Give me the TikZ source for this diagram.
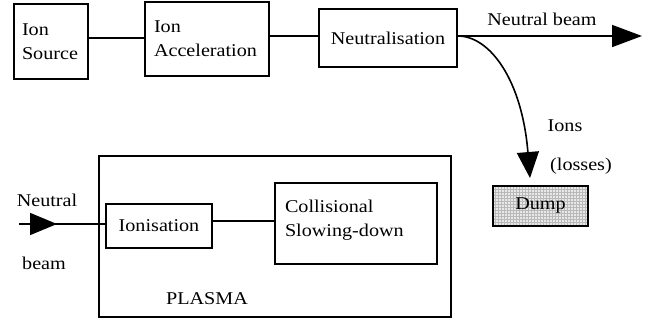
\documentclass[tikz,border=0pt]{standalone}
\usepackage{fontspec}
\setmainfont{Liberation Serif}[FakeStretch=1.12]
\usetikzlibrary{arrows.meta,patterns,decorations.markings}
\begin{document}
\begin{tikzpicture}[x=1pt,y=-1pt,
  every node/.style={font=\fontsize{18}{24}\selectfont, inner sep=0pt},
  box/.style={draw, line width=1.6pt},
  conn/.style={line width=1.6pt},
  bigtip/.style={-{Triangle[length=30pt,width=22pt]}}
]
\useasboundingbox (0,0) rectangle (658,324);
% top row
\node[box, minimum width=74pt, minimum height=75pt, text width=58pt, align=left] (src) at (51,41.5) {Ion\\Source};
\node[box, minimum width=124pt, minimum height=74pt, text width=106pt, align=left] (acc) at (207,39) {Ion\\Acceleration};
\node[box, minimum width=138pt, minimum height=58pt] (neut) at (388,38) {Neutralisation};
\draw[conn] ([yshift=3.5pt]src.east) -- ([yshift=1pt]acc.west);
\draw[conn] ([yshift=3pt]acc.east) -- ([yshift=2pt]neut.west);
\coordinate (beamend) at (642,36);
\coordinate (ionsend) at (530,178);
\draw[conn, bigtip] ([yshift=2pt]neut.east) -- (beamend);
\node (nbl) at (542,19) {Neutral beam};
\draw[conn, -{Triangle[length=26pt,width=22pt]}] ([yshift=2pt]neut.east) .. controls (490,36) and (522,80) .. (ionsend);
\node (ionsl) at (565,126) {Ions};
\node (lossl) at (581,166) {(losses)};
\node[draw, line width=2pt, minimum width=95pt, minimum height=40pt,
      preaction={fill=gray!18}, pattern=grid, pattern color=gray!55] (dump) at (540.5,206) {};
\node (dumpl) at (dump) {Dump};
% plasma
\node[box, minimum width=352pt, minimum height=161pt] (plasma) at (275,236.5) {};
\node (plasmal) at (207,299) {PLASMA};
\node[box, fill=white, minimum width=106pt, minimum height=44pt] (ion) at (159,226) {Ionisation};
\node[box, minimum width=162pt, minimum height=81pt, text width=142pt, align=left, text depth=34pt] (coll) at (356,223.5) {Collisional\\Slowing-down};
\draw[conn] ([yshift=5pt]ion.east) -- ([yshift=2.5pt]coll.west);
\coordinate (inbeam) at (19,224);
\draw[conn, postaction={decorate}, decoration={markings, mark=at position 38pt with {\arrow{Triangle[length=27pt,width=22pt]}}}] (inbeam) -- ([yshift=2pt]ion.west);
\node (nin) at (47,200) {Neutral};
\node (bin) at (44,263) {beam};
\end{tikzpicture}
\end{document}
